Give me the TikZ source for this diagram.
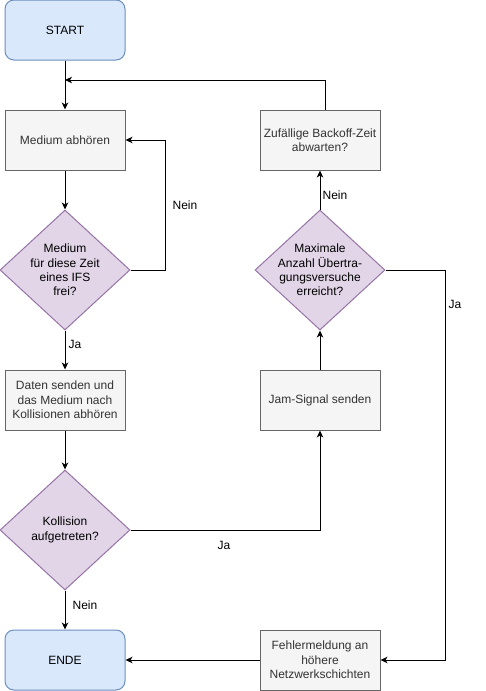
\documentclass[tikz,border=0pt]{standalone}
\usepackage{fontspec}
\setmainfont{Liberation Sans}
\usetikzlibrary{shapes.geometric,arrows.meta}
\definecolor{bluefill}{HTML}{DAE8FC}
\definecolor{blueline}{HTML}{6C8EBF}
\definecolor{greyfill}{HTML}{F5F5F5}
\definecolor{greyline}{HTML}{666666}
\definecolor{greytext}{HTML}{333333}
\definecolor{purfill}{HTML}{E1D5E7}
\definecolor{purline}{HTML}{9673A6}
\tikzset{
  every node/.style={font=\fontsize{12}{14.4}\selectfont},
  term/.style={draw=blueline,fill=bluefill,rounded corners=9pt,minimum width=120pt,minimum height=60pt,inner sep=0pt,line width=1pt},
  procbox/.style={draw=greyline,fill=greyfill,text=greytext,minimum width=120pt,minimum height=60pt,inner sep=0pt,align=center,line width=1pt},
  dia/.style={diamond,draw=purline,fill=purfill,minimum width=130pt,minimum height=120pt,inner sep=0pt,line width=1pt},
  diatext/.style={align=center,inner sep=0pt},
  conn/.style={line width=1pt,-{Stealth[length=7pt,width=6.5pt,inset=2pt]}},
  elabel/.style={font=\fontsize{12}{14}\selectfont,inner sep=0pt}
}
\begin{document}
\begin{tikzpicture}[x=1pt,y=-1pt]
\useasboundingbox (0,0) rectangle (486,691);
\node[term] (start) at (65,30) {START};
\node[procbox] (listen) at (65,140) {Medium abhören};
\node[dia] (d1) at (65,270) {};
\node[diatext] (d1t) at (65,270) {Medium\\für diese Zeit\\eines IFS\\frei?};
\node[procbox] (send) at (65,400) {Daten senden und\\das Medium nach\\Kollisionen abhören};
\node[dia] (d2) at (65,530) {};
\node[diatext] (d2t) at (65,530) {Kollision\\aufgetreten?};
\node[term] (ende) at (65,660) {ENDE};
\node[procbox] (backoff) at (320,140) {Zufällige Backoff-Zeit\\abwarten?};
\node[dia] (d3) at (320,270) {};
\node[diatext] (d3t) at (320,270) {Maximale\\Anzahl Übertra-\\gungsversuche\\erreicht?};
\node[procbox] (jam) at (320,400) {Jam-Signal senden};
\node[procbox] (err) at (320,660) {Fehlermeldung an\\höhere\\Netzwerkschichten};
\coordinate (merge) at (65,80);
\coordinate (boTop) at ([xshift=5pt]backoff.north);

\draw[conn] (start) -- (listen);
\draw[conn] (boTop) |- (merge);
\draw[conn] (listen) -- (d1.north);
\draw[conn] (d1.east) -- (165,270) |- (listen.east);
\draw[conn] (d1.south) -- (send.north);
\draw[conn] (send) -- (d2.north);
\draw[conn] (d2.east) -| (jam.south);
\draw[conn] (d2.south) -- (ende.north);
\draw[conn] (jam.north) -- (d3.south);
\draw[conn] (d3.north) -- (backoff.south);
\draw[conn] (d3.east) -- (445,270) |- (err.east);
\draw[conn] (err.west) -- (ende.east);

\node[elabel] (l1) at (185,205) {Nein};
\node[elabel] (l2) at (75,344) {Ja};
\node[elabel] (l3) at (224,545) {Ja};
\node[elabel] (l4) at (85,605) {Nein};
\node[elabel] (l5) at (335,195) {Nein};
\node[elabel] (l6) at (455,304) {Ja};
\end{tikzpicture}
\end{document}
